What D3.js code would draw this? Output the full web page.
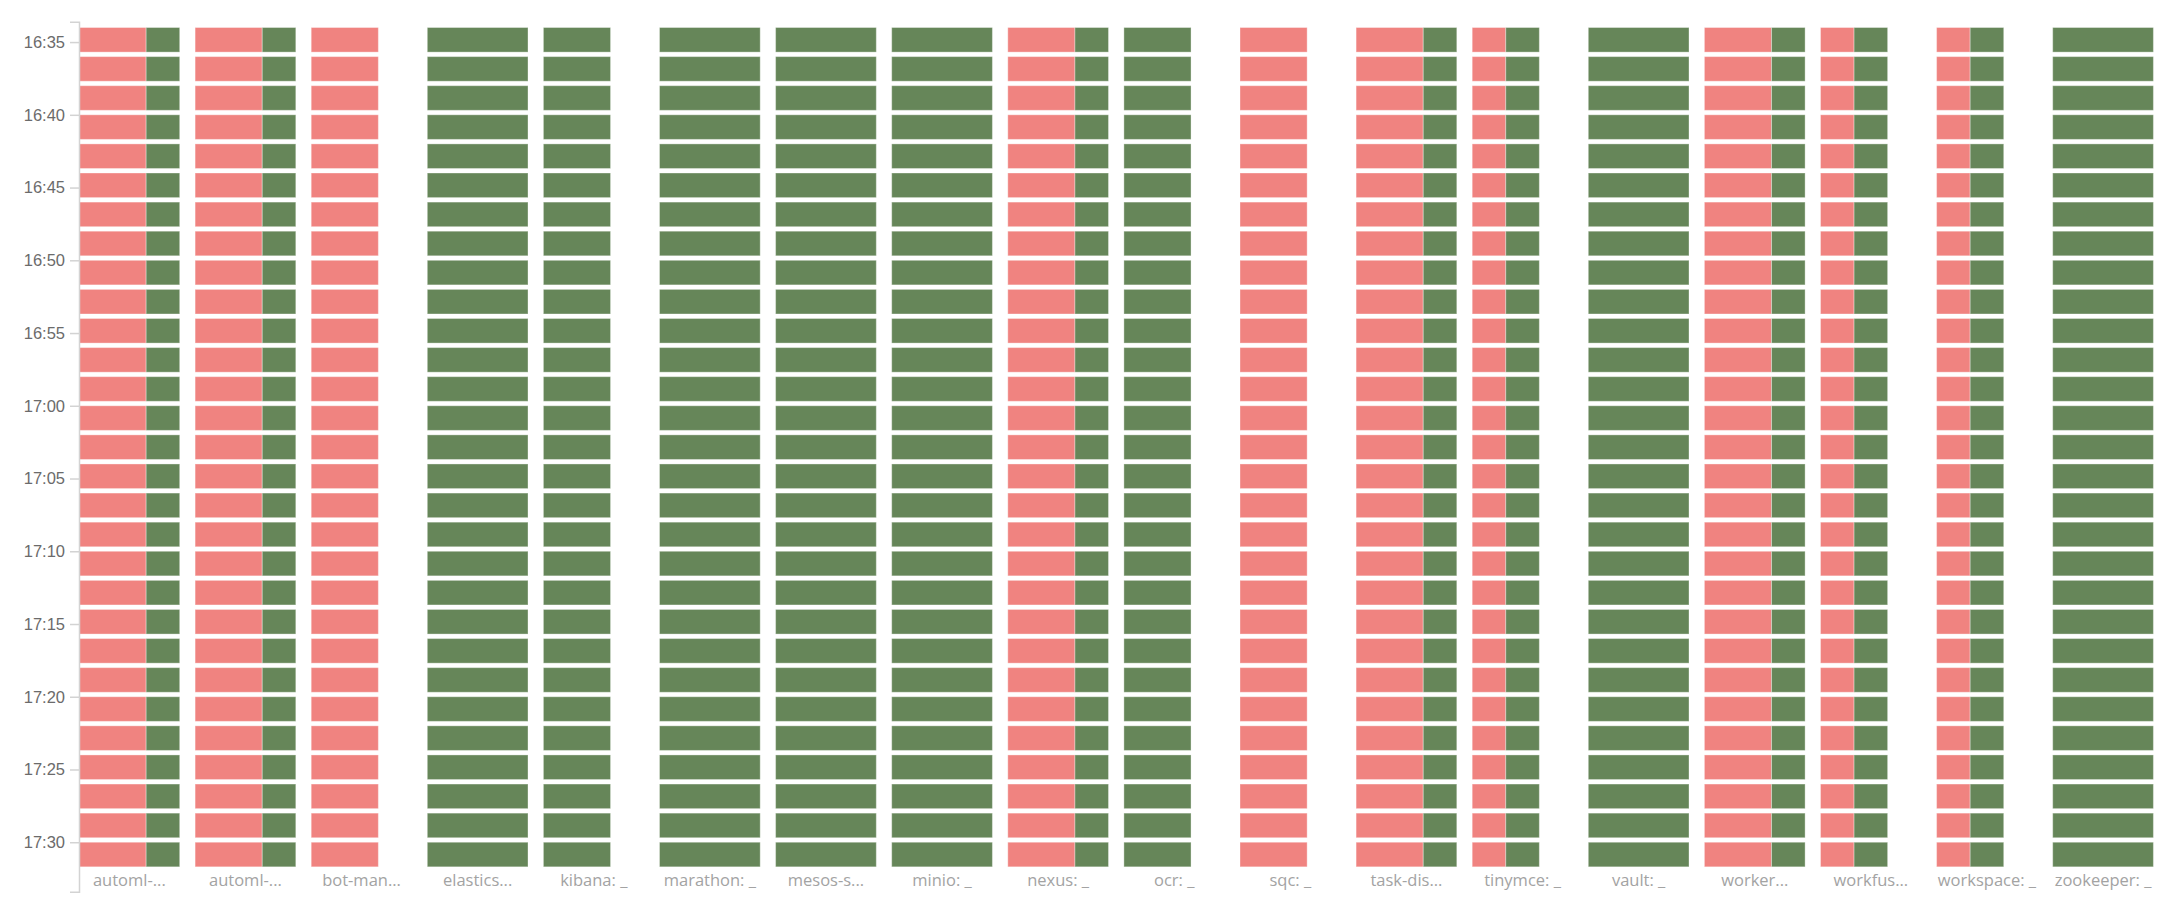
<!DOCTYPE html>
<html>
<head>
<meta charset="utf-8">
<script src="https://cdn.jsdelivr.net/npm/d3@7"></script>
<style>
  body { margin: 0; background: #fff; }
  svg { display: block; font-family: "Open Sans", sans-serif; }
  .eje path, .eje line { stroke: #d3d3d3; stroke-width: 1.5px; }
  .eje text { fill: #6b6b6b; font-size: 16.5px; }
  .titulo { fill: #a3a3a3; font-size: 16.5px; }
</style>
</head>
<body>
<div id="graf"></div>
<script>
// Servicios (titulos recortados tal como aparecen)
const servicios = ['automl-...', 'automl-...', 'bot-man...', 'elastics...', 'kibana: _', 'marathon: _',
  'mesos-s...', 'minio: _', 'nexus: _', 'ocr: _', 'sqc: _', 'task-dis...', 'tinymce: _', 'vault: _',
  'worker...', 'workfus...', 'workspace: _', 'zookeeper: _']

// Conteo por estado en cada intervalo (igual en todos los intervalos)
const caidos = [2, 2, 2, 0, 0, 0, 0, 0, 2, 0, 2, 2, 1, 0, 2, 1, 1, 0]
const activos = [1, 1, 0, 3, 2, 3, 3, 3, 1, 2, 0, 1, 1, 3, 1, 1, 1, 3]

// Intervalos de 2 minutos
const intervalos = ['16:34', '16:36', '16:38', '16:40', '16:42', '16:44', '16:46', '16:48', '16:50',
  '16:52', '16:54', '16:56', '16:58', '17:00', '17:02', '17:04', '17:06', '17:08', '17:10', '17:12',
  '17:14', '17:16', '17:18', '17:20', '17:22', '17:24', '17:26', '17:28', '17:30']

// Marcas del eje de tiempo
const marcas = ['16:35', '16:40', '16:45', '16:50', '16:55', '17:00', '17:05', '17:10', '17:15',
  '17:20', '17:25', '17:30']

const parse = d3.timeParse('%H:%M:%S')
const hora = h => parse(h.length === 5 ? h + ':00' : h)

const ancho = 2161
const alto = 899
const izquierda = 79

const svg = d3.select('#graf')
  .append('svg')
  .attr('width', ancho)
  .attr('height', alto)

// Escala de tiempo (vertical)
const y = d3.scaleTime()
  .domain([hora('16:33:36'), hora('17:33:24')])
  .range([21.7, 891.7])

// Un pequeño grafico por servicio
const x0 = d3.scaleBand()
  .domain(d3.range(servicios.length))
  .range([izquierda, 2153.4])
  .paddingInner(0.1326)
  .paddingOuter(0)

const x = d3.scaleLinear()
  .domain([0, 3])
  .range([0, x0.bandwidth()])

const colores = { caidos: '#f08380', activos: '#668659' }
const huecoFila = 4.5

servicios.forEach((s, i) => {
  const g = svg.append('g')
    .attr('transform', `translate(${x0(i)},0)`)

  const filas = g.selectAll('g.fila')
    .data(intervalos)
    .enter()
    .append('g')
    .attr('class', 'fila')

  const alturaFila = t => y(d3.timeMinute.offset(hora(t), 2)) - y(hora(t)) - huecoFila

  filas.filter(() => caidos[i] > 0)
    .append('rect')
    .attr('x', x(0))
    .attr('y', t => y(hora(t)))
    .attr('width', x(caidos[i]) - x(0))
    .attr('height', alturaFila)
    .attr('fill', colores.caidos)
    .attr('stroke', 'rgba(255,255,255,0.35)')
    .attr('stroke-width', 1)

  filas.filter(() => activos[i] > 0)
    .append('rect')
    .attr('x', x(caidos[i]))
    .attr('y', t => y(hora(t)))
    .attr('width', x(caidos[i] + activos[i]) - x(caidos[i]))
    .attr('height', alturaFila)
    .attr('fill', colores.activos)
    .attr('stroke', 'rgba(255,255,255,0.35)')
    .attr('stroke-width', 1)

  // titulo del grafico
  g.append('text')
    .attr('class', 'titulo')
    .attr('x', x0.bandwidth() / 2)
    .attr('y', 886)
    .attr('text-anchor', 'middle')
    .text(s)
})

// Eje de tiempo
const yAxis = d3.axisLeft(y)
  .tickValues(marcas.map(hora))
  .tickFormat(d3.timeFormat('%H:%M'))
  .tickSize(9)
  .tickSizeOuter(9)
  .tickPadding(5)

svg.append('g')
  .attr('class', 'eje')
  .attr('transform', `translate(${izquierda},0)`)
  .call(yAxis)
</script>
</body>
</html>
